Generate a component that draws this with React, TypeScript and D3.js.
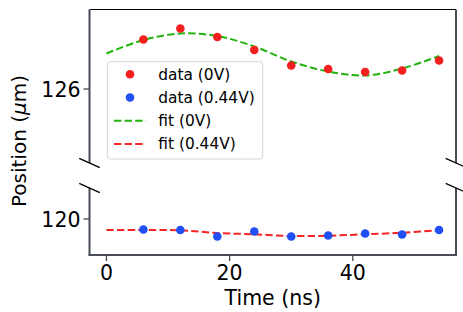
import React from 'react';
import * as d3 from 'd3';

// measured time points (ns)
const times = [6, 12, 18, 24, 30, 36, 42, 48, 54];
const data0V = [126.99, 127.21, 127.04, 126.78, 126.47, 126.4, 126.34, 126.37, 126.57];
const data044V = [119.79, 119.78, 119.65, 119.75, 119.65, 119.67, 119.71, 119.69, 119.78];

// fit curves
const fitTimes = [0, 6, 12, 18, 24, 30, 36, 42, 48, 54];
const fit0V = [126.71, 126.98, 127.11, 127.06, 126.85, 126.55, 126.35, 126.27, 126.41, 126.66];
const fit044V = [119.78, 119.78, 119.774, 119.72, 119.694, 119.66, 119.666, 119.694, 119.726, 119.774];

const xTicks = [0, 20, 40];
const topTicks = [126];
const bottomTicks = [120];

const legendItems = [
  { label: 'data (0V)', kind: 'dot', color: '#f41f1f' },
  { label: 'data (0.44V)', kind: 'dot', color: '#1f4ff5' },
  { label: 'fit (0V)', kind: 'line', color: '#22b30f' },
  { label: 'fit (0.44V)', kind: 'line', color: '#f42424' },
];

const W = 463;
const H = 312;
const left = 89.5;
const right = 456;
const top1 = 9.5, bot1 = 163;
const top2 = 188, bot2 = 255;
const spine = '#464b55';
const font = 'DejaVu Sans, sans-serif';

export default function App() {
  const x = d3.scaleLinear().domain([-2.75, 56.75]).range([left, right]);
  const yTop = d3.scaleLinear().domain([124.52, 127.59]).range([bot1, top1]);
  const yBot = d3.scaleLinear().domain([119.28, 120.62]).range([bot2, top2]);

  const lineTop = d3.line<number>()
    .x((_, i) => x(fitTimes[i]))
    .y(d => yTop(d))
    .curve(d3.curveCatmullRom);
  const lineBot = d3.line<number>()
    .x((_, i) => x(fitTimes[i]))
    .y(d => yBot(d))
    .curve(d3.curveCatmullRom);

  const brk = (cx: number, cy: number, key: string) => (
    <line key={key} x1={cx - 10.3} y1={cy - 4.6} x2={cx + 10.3} y2={cy + 4.6}
      stroke="#000" strokeWidth={1.3} />
  );

  return (
    <svg width={W} height={H} style={{ position: 'absolute', left: 0, top: 0 }}
      fontFamily={font}>
      <rect width={W} height={H} fill="#fff" />

      {/* fits */}
      <path d={lineTop(fit0V) || ''} fill="none" stroke="#22b30f" strokeWidth={2}
        strokeDasharray="7.4,3.2" />
      <path d={lineBot(fit044V) || ''} fill="none" stroke="#f42424" strokeWidth={2}
        strokeDasharray="7.4,3.2" />

      {/* data */}
      {data0V.map((v, i) => (
        <circle key={'a' + i} cx={x(times[i])} cy={yTop(v)} r={4.3} fill="#f41f1f" />
      ))}
      {data044V.map((v, i) => (
        <circle key={'b' + i} cx={x(times[i])} cy={yBot(v)} r={4.3} fill="#1f4ff5" />
      ))}

      {/* spines */}
      <line x1={left} x2={right} y1={top1} y2={top1} stroke="#000" strokeWidth={1} />
      <line x1={left} x2={left} y1={top1} y2={bot1} stroke={spine} strokeWidth={2} />
      <line x1={right} x2={right} y1={top1} y2={bot1} stroke={spine} strokeWidth={2} />
      <line x1={left} x2={left} y1={top2} y2={bot2} stroke={spine} strokeWidth={2} />
      <line x1={right} x2={right} y1={top2} y2={bot2} stroke={spine} strokeWidth={2} />
      <line x1={left - 1} x2={right + 1} y1={bot2} y2={bot2} stroke={spine} strokeWidth={2} />

      {/* break marks */}
      {brk(left, bot1, 'b1')}
      {brk(left, top2, 'b2')}
      {brk(right, bot1, 'b3')}
      {brk(right, top2, 'b4')}

      {/* y ticks */}
      {topTicks.map(t => (
        <g key={'t' + t}>
          <line x1={left - 6} x2={left} y1={yTop(t)} y2={yTop(t)} stroke={spine} strokeWidth={1.3} />
          <text x={left - 9} y={yTop(t) + 7.5} textAnchor="end" fontSize={20.5}>{t}</text>
        </g>
      ))}
      {bottomTicks.map(t => (
        <g key={'u' + t}>
          <line x1={left - 6} x2={left} y1={yBot(t)} y2={yBot(t)} stroke={spine} strokeWidth={1.3} />
          <text x={left - 9} y={yBot(t) + 7.5} textAnchor="end" fontSize={20.5}>{t}</text>
        </g>
      ))}

      {/* x ticks */}
      {xTicks.map(t => (
        <g key={'x' + t}>
          <line x1={x(t)} x2={x(t)} y1={bot2} y2={bot2 + 6} stroke={spine} strokeWidth={1.3} />
          <text x={x(t)} y={280} textAnchor="middle" fontSize={20.5}>{t}</text>
        </g>
      ))}

      {/* axis labels */}
      <text x={(left + right) / 2} y={304.5} textAnchor="middle" fontSize={20.5}>Time (ns)</text>
      <text transform="translate(26,141) rotate(-90)" textAnchor="middle" fontSize={20}>
        Position (<tspan fontStyle="italic">μ</tspan>m)
      </text>

      {/* legend */}
      <rect x={107.3} y={61.7} width={155.4} height={97.3} rx={3} fill="#fff" fillOpacity={0.8}
        stroke="#d4d4d4" strokeWidth={1} />
      {legendItems.map((it, i) => {
        const cy = 74.3 + i * 23.2;
        return (
          <g key={'l' + i}>
            {it.kind === 'dot'
              ? <circle cx={130} cy={cy} r={4.3} fill={it.color} />
              : <line x1={114} x2={146} y1={cy} y2={cy} stroke={it.color} strokeWidth={2}
                  strokeDasharray="7.4,3.2" />}
            <text x={158.3} y={cy + 5.5} fontSize={15.4}>{it.label}</text>
          </g>
        );
      })}
    </svg>
  );
}
